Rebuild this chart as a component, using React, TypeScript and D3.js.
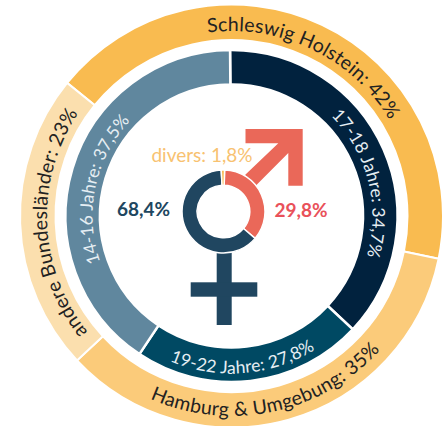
import React from "react";
import * as d3 from "d3";

// Printed labels and the slice shares as actually drawn in the picture
const regionLabels = ["Schleswig Holstein: 42%", "Hamburg & Umgebung: 35%", "andere Bundesländer: 23%"];
const regionShares = [42.4, 34.8, 22.8];
const regionColors = ["#F9BB50", "#FBCB7A", "#FBDFAE"];
const ageLabels = ["17-18 Jahre: 34,7%", "19-22 Jahre: 27,8%", "14-16 Jahre: 37,5%"];
const ageShares = [37.1, 22.4, 40.5];
const ageColors = ["#01223E", "#004963", "#60879E"];
const genderLabels = ["29,8%", "68,4%", "divers: 1,8%"];
const genderShares = [35.8, 62.9, 1.3];
const genderColors = ["#EA6859", "#204660", "#F9BB50"];

const FONT = "Lato, 'Open Sans', sans-serif";
const W = 445, H = 426;
const cx = 231.5, cy = 216;
const rad = (d: number) => (d * Math.PI) / 180;

function arcText(r: number, midDeg: number, clockwise: boolean) {
  const p = d3.path();
  const m = rad(midDeg - 90);
  if (clockwise) p.arc(0, 0, r, m - 2.6, m + 2.6, false);
  else p.arc(0, 0, r, m + 2.6, m - 2.6, true);
  return p.toString();
}

function Ring({ shares, colors, start, inner, outer, gap }: any) {
  const pie = d3.pie<number>().sort(null).startAngle(rad(start)).endAngle(rad(start + 360));
  const arc = d3.arc<d3.PieArcDatum<number>>().innerRadius(inner).outerRadius(outer);
  return (
    <g>
      {pie(shares).map((d, i) => (
        <path key={i} d={arc(d) as string} fill={colors[i]} stroke="#fff" strokeWidth={gap} />
      ))}
    </g>
  );
}

function Curved({ id, text, r, mid, cw, size, spacing, fill }: any) {
  return (
    <g>
      <path id={id} d={arcText(r, mid, cw)} fill="none" />
      <text fontFamily={FONT} fontSize={size} fontWeight={400} letterSpacing={spacing} fill={fill}>
        <textPath href={`#${id}`} startOffset="50%" textAnchor="middle">{text}</textPath>
      </text>
    </g>
  );
}

export default function App() {
  const gx = 223.5, gy = 211.5;
  return (
    <svg width={W} height={H} style={{ position: "absolute", left: 0, top: 0, background: "#fff" }}>
      <g transform={`translate(${cx},${cy})`}>
        <Ring shares={regionShares} colors={regionColors} start={-51} inner={176} outer={211.5} gap={2} />
        <Ring shares={ageShares} colors={ageColors} start={-0.5} inner={131.5} outer={166} gap={2.5} />
        <Curved id="t0" text={regionLabels[0]} r={185} mid={25.7} cw size={19.5} spacing={0.2} fill="#222" />
        <Curved id="t1" text={regionLabels[1]} r={200} mid={168} cw={false} size={19.5} spacing={0.3} fill="#222" />
        <Curved id="t2" text={regionLabels[2]} r={184.5} mid={267.5} cw size={19.5} spacing={0.2} fill="#222" />
        <Curved id="t3" text={ageLabels[0]} r={141} mid={75.7} cw size={17.5} spacing={0.15} fill="#e6eef3" />
        <Curved id="t4" text={ageLabels[1]} r={157.5} mid={175.5} cw={false} size={17.5} spacing={0.15} fill="#e6eef3" />
        <Curved id="t5" text={ageLabels[2]} r={139} mid={282} cw size={17.5} spacing={0.15} fill="#e6eef3" />
      </g>
      {/* male symbol */}
      <path d="M245.5,129 H302.7 V185.7 H288.3 V153 L255.7,185.7 L245,175 L278.3,143.3 H245.5 Z" fill={genderColors[0]} />
      {/* female symbol */}
      <rect x={216.7} y={250} width={15} height={75} fill={genderColors[1]} />
      <rect x={190.7} y={282.3} width={66.6} height={14.4} fill={genderColors[1]} />
      <g transform={`translate(${gx},${gy})`}>
        <Ring shares={genderShares} colors={genderColors} start={1.5} inner={26.3} outer={41.5} gap={1.5} />
      </g>
      <text x={143.5} y={216} textAnchor="middle" fontFamily={FONT} fontSize={19} fontWeight={700} fill="#204660">{genderLabels[1]}</text>
      <text x={301} y={217} textAnchor="middle" fontFamily={FONT} fontSize={19} fontWeight={700} fill="#E9515A">{genderLabels[0]}</text>
      <text x={202} y={162} textAnchor="middle" fontFamily={FONT} fontSize={19} fontWeight={400} fill="#F8C271">{genderLabels[2]}</text>
    </svg>
  );
}
